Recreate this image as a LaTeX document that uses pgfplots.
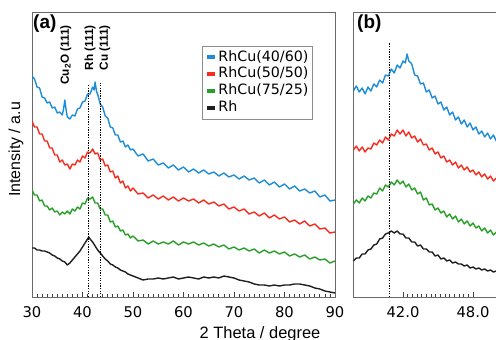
\documentclass[border=0pt]{standalone}
\usepackage{pgfplots}
\pgfplotsset{compat=1.18}
\usepackage{fontspec}
\setmainfont{Liberation Sans}
\newfontfamily\tickfont{DejaVu Sans}

\definecolor{cblue}{RGB}{30,140,215}
\definecolor{cred}{RGB}{245,45,30}
\definecolor{cgreen}{RGB}{40,160,40}
\definecolor{cblack}{RGB}{30,30,30}
\definecolor{framegray}{RGB}{105,105,105}

\pgfplotsset{
  xrdframe/.style={
    scale only axis, height=285bp, ymin=0, ymax=285,
    ytick=\empty,
    axis line style={framegray, line width=0.9bp},
    tick align=inside, xtick pos=bottom,
    major tick length=4.5bp, minor tick length=2.8bp,
    tick style={black!75, line width=0.7bp},
    /pgf/number format/assume math mode=true,
    xticklabel style={font=\tickfont\fontsize{14.8}{15}\selectfont, inner sep=0pt, yshift=-9.5bp},
  },
  spec/.style={line width=1.4bp, line join=round},
  refline/.style={black, line width=0.6bp, dash pattern=on 1.3bp off 1.3bp, forget plot},
}

\begin{document}
\begin{tikzpicture}
\useasboundingbox (0,0) rectangle (496bp,340bp);
\clip (0,0) rectangle (496bp,340bp);

% ---------------- panel (a): full scan ----------------
\begin{axis}[xrdframe, at={(32bp,43bp)}, anchor=south west, width=303bp,
  xmin=30, xmax=90, xtick={30,40,...,90}, minor x tick num=9,
  legend style={at={(rel axis cs:0.561,0.881)}, anchor=north west,
    draw=black!45, line width=0.8bp, inner xsep=3bp, inner ysep=2.5bp,
    font=\tickfont\fontsize{14.3}{15}\selectfont, row sep=0pt,
    nodes={inner sep=1.2bp, text height=11bp, text depth=3.5bp}},
  legend cell align=left,
  legend image code/.code={\draw[line width=3.8bp] (0bp,0bp) -- (8bp,0bp);},
]
\addplot[spec, cblue] coordinates {
(30.0,221) (30.5,218) (31.0,210) (31.5,209) (32.0,200) (32.5,199) (33.0,194) (33.5,195)
(34.0,189) (34.5,190) (35.0,184) (35.5,185) (36.0,182) (36.25,188) (36.5,197) (36.75,187)
(37.0,180) (37.5,178) (38.0,182) (38.5,181) (39.0,188) (39.5,189) (40.0,195) (40.5,196)
(41.0,203) (41.5,203) (42.0,210) (42.3,207) (42.5,215) (42.8,205) (43.0,203) (43.5,193)
(44.0,190) (44.5,181) (45.0,179) (45.5,170) (46.0,169) (46.5,162) (47.0,162) (47.5,155)
(48.0,156) (48.5,150) (49.0,152) (49.5,147) (50.0,148) (51,141) (52,143) (53,136)
(54,138) (55,132) (56,134) (57,129) (58,132) (59,127) (60,130) (61,125) (62,128)
(63,124) (64,127) (65,123) (66,125) (67,121) (68,124) (69,120) (70,122) (71,118)
(72,121) (73,117) (74,119) (75,114) (76,117) (77,112) (78,115) (79,110) (80,113)
(81,108) (82,111) (83,106) (84,108) (85,104) (86,106) (87,100) (88,102) (89,96) (90,97)
};
\addlegendentry{RhCu(40/60)}
\addplot[spec, cred] coordinates {
(30.0,176) (30.5,170) (31.0,170) (31.5,163) (32.0,163) (32.5,156) (33.0,156) (33.5,149)
(34.0,149) (34.5,142) (35.0,142) (35.5,135) (36.0,137) (36.5,132) (37.0,133) (37.5,128)
(38.0,133) (38.5,132) (39.0,137) (39.5,135) (40.0,141) (40.5,139) (41.0,145) (41.5,144)
(42.0,148) (42.5,143) (43.0,144) (43.5,137) (44.0,138) (44.5,131) (45.0,132) (45.5,125)
(46.0,126) (46.5,119) (47.0,121) (47.5,114) (48.0,116) (48.5,109) (49.0,111) (49.5,106)
(50.0,109) (51,103) (52,104) (53,99) (54,102) (55,98) (56,101) (57,97) (58,100)
(59,96) (60,99) (61,96) (62,98) (63,94) (64,97) (65,93) (66,95) (67,91) (68,93)
(69,88) (70,90) (71,86) (72,88) (73,83) (74,85) (75,81) (76,84) (77,79) (78,82)
(79,78) (80,80) (81,75) (82,77) (83,73) (84,76) (85,71) (86,73) (87,68) (88,69) (89,64) (90,65)
};
\addlegendentry{RhCu(50/50)}
\addplot[spec, cgreen] coordinates {
(30.0,107) (30.5,102) (31.0,102) (31.5,96) (32.0,97) (32.5,91) (33.0,91) (33.5,87)
(34.0,89) (34.5,85) (35.0,86) (35.5,82) (36.0,85) (36.5,83) (37.0,86) (37.5,83)
(38.0,88) (38.5,86) (39.0,90) (39.5,88) (40.0,94) (40.5,93) (41.0,99) (41.5,98)
(42.0,100) (42.5,94) (43.0,94) (43.5,88) (44.0,88) (44.5,82) (45.0,82) (45.5,75)
(46.0,76) (46.5,70) (47.0,71) (47.5,66) (48.0,67) (48.5,62) (49.0,63) (49.5,59)
(50.0,61) (51,56) (52,57) (53,53) (54,56) (55,53) (56,55) (57,53) (58,56) (59,52)
(60,55) (61,53) (62,55) (63,52) (64,54) (65,51) (66,53) (67,50) (68,52) (69,48)
(70,50) (71,47) (72,49) (73,46) (74,48) (75,44) (76,47) (77,44) (78,46) (79,43)
(80,45) (81,41) (82,43) (83,40) (84,42) (85,38) (86,40) (87,37) (88,38) (89,34) (90,36)
};
\addlegendentry{RhCu(75/25)}
\addplot[spec, cblack] coordinates {
(30.0,49) (30.5,49) (31.0,47) (31.5,47) (32.0,46) (32.5,46) (33.0,45) (33.5,44)
(34.0,42) (34.5,41) (35.0,39) (35.5,38) (36.0,36) (36.5,35) (37.0,32) (37.5,34)
(38.0,37) (38.5,40) (39.0,43) (39.5,46) (40.0,50) (40.5,54) (41.0,58) (41.25,60)
(41.5,58) (42.0,55) (42.5,51) (43.0,47) (43.5,44) (44.0,41) (44.5,38) (45.0,36)
(45.5,33) (46.0,32) (46.5,30) (47.0,29) (47.5,27) (48.0,26) (48.5,25) (49.0,23)
(49.5,22) (50.0,21) (51,19) (52,17) (53,18) (54,18) (55,19) (56,18) (57,19) (58,20)
(59,18) (60,19) (61,20) (62,19) (63,18) (64,20) (65,19) (66,20) (67,19) (68,21)
(69,20) (70,19) (71,17) (72,16) (73,15) (74,13) (75,12) (76,12) (77,11) (78,12)
(79,11) (80,12) (81,12) (82,13) (83,13) (84,12) (85,11) (86,9) (87,8) (88,6) (89,5) (90,4)
};
\addlegendentry{Rh}
% reflection positions
\addplot[refline] coordinates {(41.1,0) (41.1,212)};
\addplot[refline] coordinates {(43.6,0) (43.6,214)};
\begin{scope}[every node/.style={rotate=90, anchor=east, inner sep=0pt,
    font=\bfseries\fontsize{11.8}{12}\selectfont}]
\node at (axis cs:36.7,272) {Cu\textsubscript{2}O (111)};
\node at (axis cs:41.5,272) {Rh (111)};
\node at (axis cs:44.4,272) {Cu (111)};
\end{scope}
\end{axis}

% ---------------- panel (b): zoom on the (111) region ----------------
\begin{axis}[xrdframe, at={(353.4bp,43bp)}, anchor=south west, width=154.6bp,
  xmin=37.75, xmax=51, xtick={42,48}, xticklabels={42.0,48.0}, minor x tick num=14,
]
\addplot[spec, cblue] coordinates {
(37.75,206) (38.00,211) (38.25,205) (38.50,209) (38.75,203) (39.00,210) (39.25,206)
(39.50,213) (39.75,210) (40.00,217) (40.25,214) (40.50,222) (40.75,221) (41.00,228)
(41.25,224) (41.50,232) (41.75,229) (42.00,236) (42.20,234) (42.35,243) (42.50,236)
(42.75,233) (43.00,222) (43.25,221) (43.50,213) (43.75,214) (44.00,205) (44.25,207)
(44.50,199) (44.75,201) (45.00,193) (45.25,195) (45.50,187) (45.75,190) (46.00,182)
(46.25,185) (46.50,177) (46.75,180) (47.00,173) (47.25,177) (47.50,170) (47.75,174)
(48.00,167) (48.25,170) (48.50,163) (48.75,166) (49.00,160) (49.25,164) (49.50,158)
(49.75,162) (50.00,156) (50.25,160) (50.50,156) (50.75,159) (51.00,155)
};
\addplot[spec, cred] coordinates {
(37.75,147) (38.00,151) (38.25,146) (38.50,150) (38.75,145) (39.00,149) (39.25,148)
(39.50,154) (39.75,152) (40.00,157) (40.25,154) (40.50,160) (40.75,157) (41.00,163)
(41.25,161) (41.50,167) (41.75,163) (42.00,167) (42.25,161) (42.50,165) (42.75,159)
(43.00,161) (43.25,155) (43.50,158) (43.75,152) (44.00,153) (44.25,147) (44.50,149)
(44.75,143) (45.00,145) (45.25,139) (45.50,141) (45.75,135) (46.00,137) (46.25,132)
(46.50,135) (46.75,129) (47.00,132) (47.25,127) (47.50,130) (47.75,125) (48.00,127)
(48.25,122) (48.50,125) (48.75,120) (49.00,123) (49.25,118) (49.50,121) (49.75,116)
(50.00,119) (50.25,115) (50.50,117) (50.75,113) (51.00,115)
};
\addplot[spec, cgreen] coordinates {
(37.75,93) (38.00,97) (38.25,94) (38.50,99) (38.75,96) (39.00,101) (39.25,99)
(39.50,104) (39.75,103) (40.00,109) (40.25,106) (40.50,112) (40.75,110) (41.00,115)
(41.25,112) (41.50,117) (41.75,113) (42.00,116) (42.25,110) (42.50,113) (42.75,107)
(43.00,109) (43.25,103) (43.50,105) (43.75,97) (44.00,99) (44.25,92) (44.50,93)
(44.75,87) (45.00,89) (45.25,84) (45.50,86) (45.75,80) (46.00,83) (46.25,78)
(46.50,81) (46.75,75) (47.00,78) (47.25,73) (47.50,76) (47.75,71) (48.00,74)
(48.25,69) (48.50,71) (48.75,66) (49.00,69) (49.25,64) (49.50,67) (49.75,62)
(50.00,65) (50.25,62) (50.50,64) (50.75,61) (51.00,62)
};
\addplot[spec, cblack] coordinates {
(37.75,36) (38.00,39) (38.25,39) (38.50,43) (38.75,43) (39.00,47) (39.25,48)
(39.50,52) (39.75,53) (40.00,58) (40.25,59) (40.50,63) (40.75,64) (41.00,66)
(41.25,64) (41.50,66) (41.75,63) (42.00,63) (42.25,59) (42.50,59) (42.75,55)
(43.00,55) (43.25,51) (43.50,52) (43.75,48) (44.00,48) (44.25,45) (44.50,45)
(44.75,41) (45.00,42) (45.25,38) (45.50,39) (45.75,36) (46.00,37) (46.25,34)
(46.50,35) (46.75,33) (47.00,33) (47.25,31) (47.50,32) (47.75,29) (48.00,30)
(48.25,28) (48.50,29) (48.75,27) (49.00,28) (49.25,26) (49.50,27) (49.75,25)
(50.00,26) (50.25,24) (50.50,25) (50.75,23) (51.00,24)
};
\addplot[refline] coordinates {(40.8,0) (40.8,254)};
\end{axis}

% panel letters and shared axis titles
\node[anchor=north west, inner sep=0pt, font=\bfseries\fontsize{19}{19}\selectfont] at (33bp,325.5bp) {(a)};
\node[anchor=north west, inner sep=0pt, font=\bfseries\fontsize{19}{19}\selectfont] at (357bp,325.5bp) {(b)};
\node[anchor=base, inner sep=0pt, font=\fontsize{16.5}{17}\selectfont] at (260bp,2bp) {2 Theta / degree};
\node[rotate=90, anchor=base, inner sep=0pt, font=\fontsize{16}{17}\selectfont] at (20bp,190.5bp) {Intensity / a.u};
\end{tikzpicture}
\end{document}
